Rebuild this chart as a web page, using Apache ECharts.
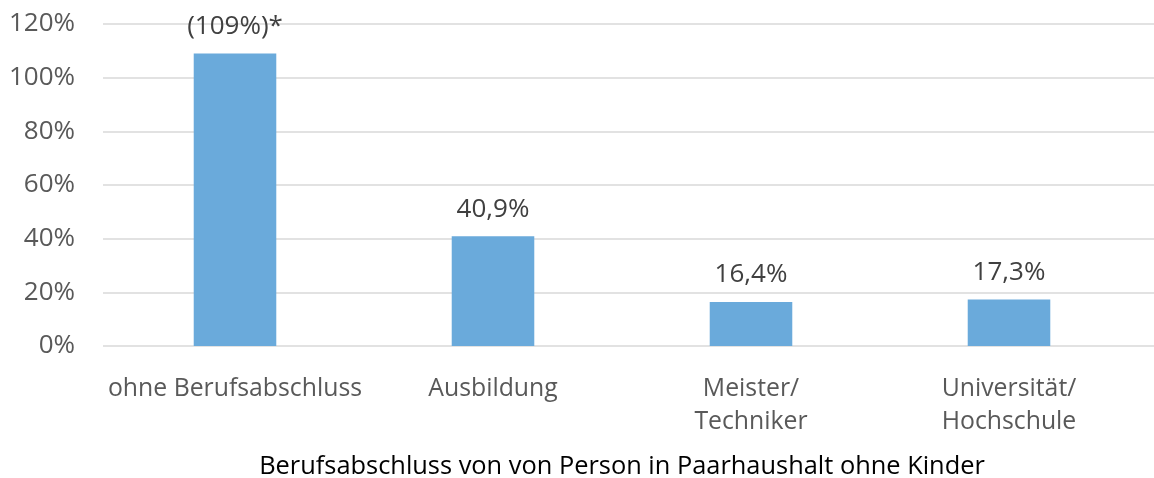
<!DOCTYPE html>
<html><head><meta charset="utf-8">
<script src="https://cdn.jsdelivr.net/npm/echarts@6/dist/echarts.min.js"></script>
<style>html,body{margin:0;padding:0;background:#fff}#c{width:1154px;height:478px}</style>
</head><body><div id="c"></div>
<script>
const categories = ["ohne Berufsabschluss", "Ausbildung", "Meister/\nTechniker", "Universität/\nHochschule"];
const values = [109, 40.9, 16.4, 17.3];
const valueLabels = ["(109%)*", "40,9%", "16,4%", "17,3%"];
const yTicks = [0, 20, 40, 60, 80, 100, 120];
const xTitle = "Berufsabschluss von von Person in Paarhaushalt ohne Kinder";

const font = "'Open Sans', sans-serif";
const yMin = yTicks[0], yMax = yTicks[yTicks.length - 1];
const chart = echarts.init(document.getElementById('c'));
chart.setOption({
  animation: false,
  grid: [
    { left: 103, right: 0, top: 24, bottom: 132, containLabel: false, outerBoundsMode: 'none' },
    { left: 106, right: 16, top: 24, bottom: 132, containLabel: false, outerBoundsMode: 'none' }
  ],
  xAxis: [
    { gridIndex: 0, type: 'category', data: categories, show: false },
    {
      gridIndex: 1, type: 'category', data: categories,
      axisLine: { show: false },
      axisTick: { show: false },
      axisLabel: { interval: 0, color: '#595959', fontFamily: font, fontSize: 24.8, lineHeight: 33, margin: 26 },
      name: xTitle, nameLocation: 'middle', nameGap: 108,
      nameTextStyle: { color: '#000', fontFamily: font, fontSize: 25.4 }
    }
  ],
  yAxis: [
    {
      gridIndex: 0, type: 'value', min: yMin, max: yMax, interval: 20,
      axisLine: { show: false }, axisTick: { show: false },
      splitLine: { show: true, lineStyle: { color: '#d9d9d9', width: 1.5 } },
      axisLabel: { formatter: '{value}%', color: '#595959', fontFamily: font, fontSize: 26, margin: 28 }
    },
    {
      gridIndex: 1, type: 'value', min: yMin, max: yMax, interval: 20,
      show: false, splitLine: { show: false }
    }
  ],
  series: [{
    type: 'bar', xAxisIndex: 1, yAxisIndex: 1, data: values, barWidth: '32%',
    itemStyle: { color: '#6aaadb' },
    label: {
      show: true, position: 'top', distance: 14,
      formatter: p => valueLabels[p.dataIndex],
      color: '#404040', fontFamily: font, fontSize: 26
    }
  }]
});
</script></body></html>
